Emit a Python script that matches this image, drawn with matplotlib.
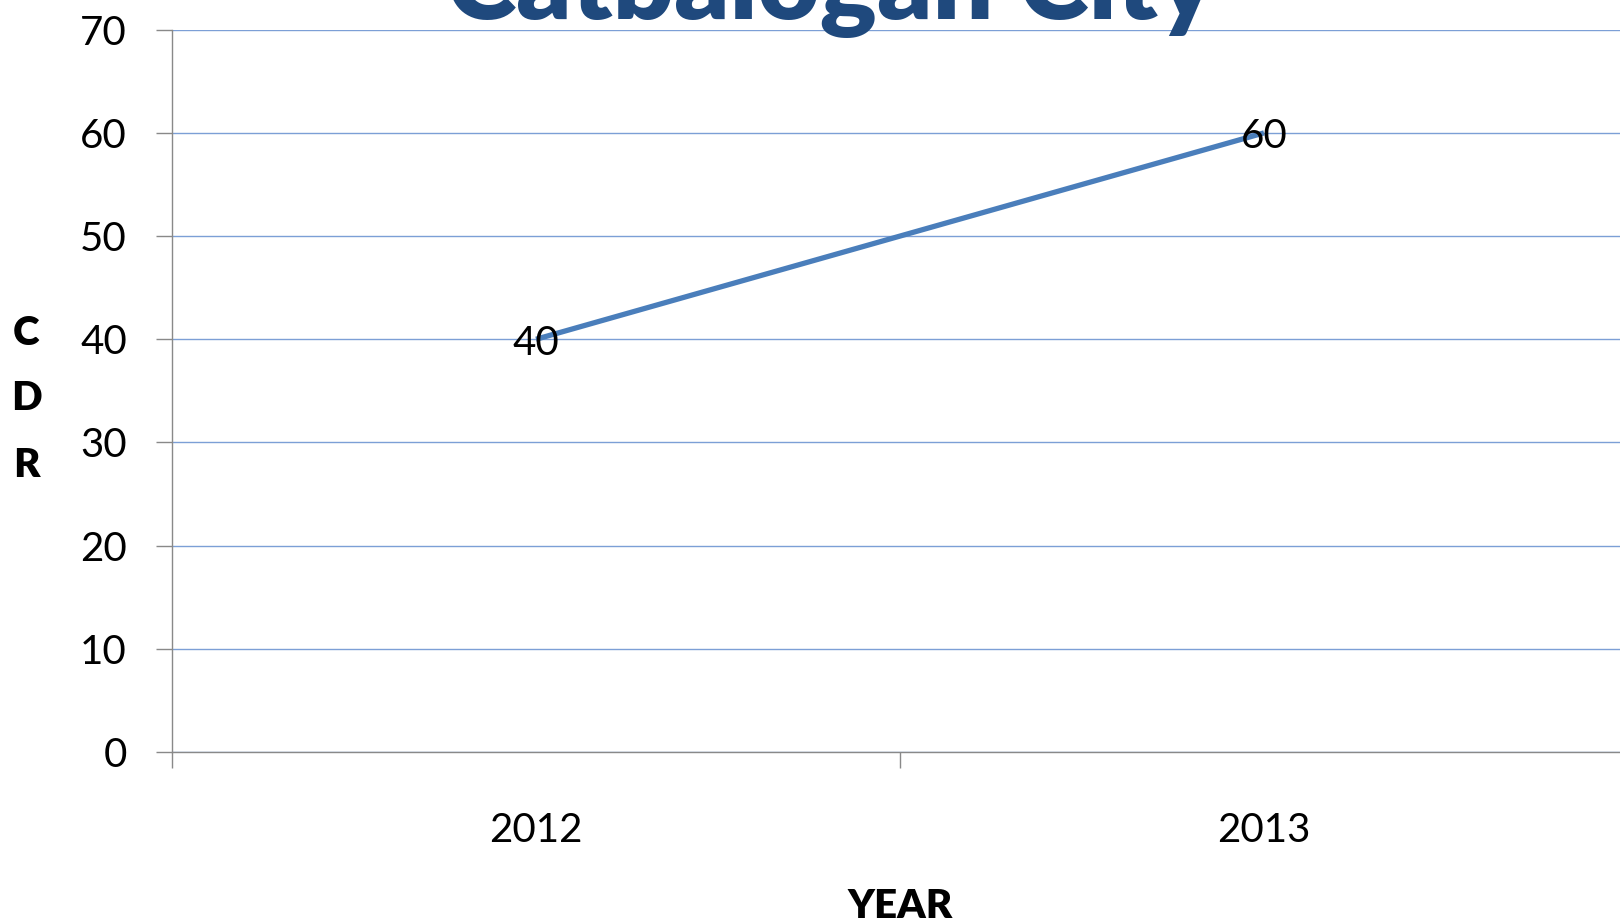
import matplotlib
matplotlib.use("Agg")
import matplotlib.pyplot as plt
from matplotlib.ticker import FixedLocator, NullFormatter, FixedFormatter

years = ["2012", "2013"]
cdr = [40, 60]
yticks = [0, 10, 20, 30, 40, 50, 60, 70]

FONT = ["Lato", "DejaVu Sans"]
plt.rcParams["font.family"] = FONT

W, H = 1620, 923
fig = plt.figure(figsize=(W / 100, H / 100), dpi=100)
L, R, B, T = 172, 1628, 752, 29.7
ax = fig.add_axes([L / W, 1 - B / H, (R - L) / W, (B - T) / H])

FS = 29
xpos = [i + 0.5 for i in range(len(years))]
ax.plot(xpos, cdr, color="#4A7EBB", lw=3.8, solid_capstyle="butt", zorder=3, clip_on=False)
for x, v in zip(xpos, cdr):
    ax.annotate(str(v), (x, v), xytext=(0, -11.0), textcoords="offset points",
                ha="center", va="baseline", fontsize=FS, color="black", zorder=4)

ax.set_xlim(0, len(years))
ax.set_ylim(0, 70)

# major x ticks between categories, labels at category centres
ax.xaxis.set_major_locator(FixedLocator([0, 1, 2]))
ax.xaxis.set_major_formatter(NullFormatter())
ax.xaxis.set_minor_locator(FixedLocator(xpos))
ax.xaxis.set_minor_formatter(FixedFormatter(years))
ax.tick_params(axis="x", which="major", length=11.5, width=1.0, color="#898989", direction="out")
ax.tick_params(axis="x", which="minor", length=0, pad=43, labelsize=FS)

ax.set_yticks(yticks)
ax.tick_params(axis="y", which="major", length=11.5, width=1.0, color="#898989",
               direction="out", pad=21, labelsize=FS)

ax.grid(axis="y", color="#7C9FD6", lw=1.0, zorder=1)
ax.set_axisbelow(True)
for s in ["top", "right"]:
    ax.spines[s].set_visible(False)
for s in ["left", "bottom"]:
    ax.spines[s].set_color("#898989")
    ax.spines[s].set_linewidth(1.0)

# title (cut off at top)
fig.text(831 / W, 1 - 19 / H, "Catbalogan City", ha="center", va="baseline",
         fontsize=77, fontweight="heavy", color="#1F497D")

# axis titles
fig.text(900 / W, 1 - 918 / H, "YEAR", ha="center", va="baseline", fontsize=FS, fontweight="heavy")
for letter, yb in zip(["C", "D", "R"], [345, 410, 477]):
    fig.text(26 / W, 1 - yb / H, letter, ha="center", va="baseline", fontsize=FS, fontweight="heavy")

fig.savefig("out.png", dpi=100)
